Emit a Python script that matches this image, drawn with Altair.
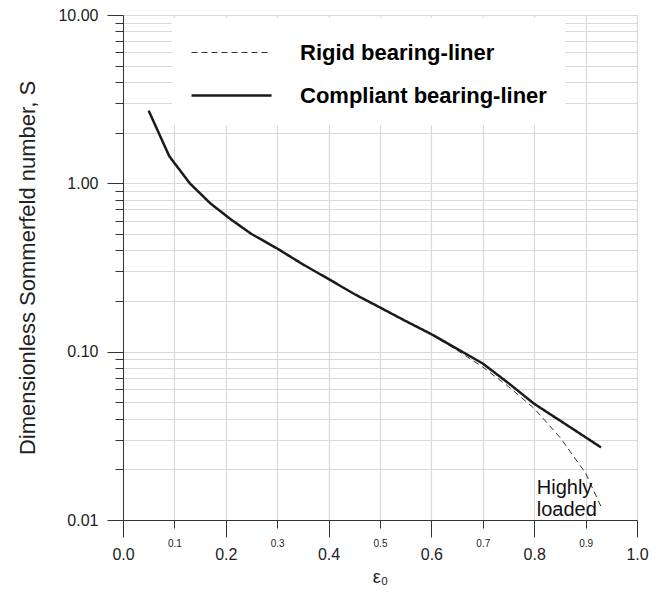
import altair as alt
import pandas as pd

# ---- data ----
series_names = ["Rigid bearing-liner", "Compliant bearing-liner"]

eps_compliant = [0.05, 0.09, 0.13, 0.17, 0.21, 0.25, 0.30, 0.35, 0.40, 0.45,
                 0.50, 0.55, 0.60, 0.65, 0.70, 0.75, 0.80, 0.85, 0.90, 0.93]
s_compliant = [2.70, 1.45, 1.00, 0.76, 0.61, 0.50, 0.41, 0.33, 0.27, 0.22,
               0.183, 0.152, 0.127, 0.104, 0.085, 0.065, 0.049, 0.039, 0.031, 0.027]

eps_rigid = [0.05, 0.09, 0.13, 0.17, 0.21, 0.25, 0.30, 0.35, 0.40, 0.45,
             0.50, 0.55, 0.60, 0.65, 0.70, 0.75, 0.80, 0.85, 0.90, 0.93]
s_rigid = [2.70, 1.45, 1.00, 0.76, 0.61, 0.50, 0.41, 0.33, 0.27, 0.22,
           0.183, 0.152, 0.126, 0.102, 0.081, 0.062, 0.046, 0.031, 0.019, 0.012]

x_ticks = [0.0, 0.1, 0.2, 0.3, 0.4, 0.5, 0.6, 0.7, 0.8, 0.9, 1.0]
y_ticks = [0.01, 0.02, 0.03, 0.04, 0.05, 0.06, 0.07, 0.08, 0.09,
           0.1, 0.2, 0.3, 0.4, 0.5, 0.6, 0.7, 0.8, 0.9,
           1, 2, 3, 4, 5, 6, 7, 8, 9, 10]

annot_x = [0.805]
annot_y = [0.0142]
annot_text = ["Highly\nloaded"]

# ---- tables ----
df = pd.concat([
    pd.DataFrame({"eps": eps_rigid, "S": s_rigid, "series": series_names[0]}),
    pd.DataFrame({"eps": eps_compliant, "S": s_compliant, "series": series_names[1]}),
], ignore_index=True)
df_annot = pd.DataFrame({"eps": annot_x, "S": annot_y, "label": annot_text})

FONT = "Liberation Sans"
x_major = "round(datum.value * 10) % 2 == 0"
y_major = "datum.value == 0.01 || datum.value == 0.1 || datum.value == 1 || datum.value == 10"

x_scale = alt.Scale(domain=[0, 1], nice=False)
y_scale = alt.Scale(type="log", domain=[0.01, 10], nice=False)

x_axis = alt.Axis(
    values=x_ticks, format=".1f", grid=True, gridColor="#d9d9d9", gridWidth=1.2,
    domainColor="#333333", tickColor="#333333", labelColor="#222222",
    tickSize={"condition": {"test": x_major, "value": 17}, "value": 8},
    labelFontSize={"condition": {"test": x_major, "value": 16}, "value": 10},
    labelPadding={"condition": {"test": x_major, "value": 9}, "value": 10},
    labelFlush=False, labelOverlap=False, labelFont=FONT,
    title="ε₀", titleFont=FONT, titleFontSize=18, titleFontWeight="normal",
    titleColor="#222222", titlePadding=6,
)
y_axis = alt.Axis(
    values=y_ticks, grid=True, gridColor="#d9d9d9", gridWidth=1.2,
    domainColor="#333333", tickColor="#333333", labelColor="#222222",
    labelExpr="(" + y_major + ") ? format(datum.value, '.2f') : ''",
    tickSize={"condition": {"test": y_major, "value": 16}, "value": 8},
    labelFontSize=16, labelPadding=9, labelOverlap=False, labelFont=FONT,
    title="Dimensionless Sommerfeld number, S", titleFont=FONT, titleFontSize=22,
    titleFontWeight="normal", titleColor="#222222", titlePadding=18,
)

legend = alt.Legend(
    title=None, orient="none", legendX=49, legendY=3, fillColor="white",
    padding=18, symbolType="M-1,0H4", symbolSize=1024, rowPadding=14,
    labelFontSize=22, labelFontWeight="bold", labelFont=FONT, labelColor="black",
    labelOffset=75, labelLimit=500,
)

lines = alt.Chart(df).mark_line().encode(
    x=alt.X("eps:Q", scale=x_scale, axis=x_axis),
    y=alt.Y("S:Q", scale=y_scale, axis=y_axis),
    stroke=alt.Stroke("series:N", scale=alt.Scale(domain=series_names, range=["#333333", "#1a1a1a"]), legend=legend),
    strokeDash=alt.StrokeDash("series:N", scale=alt.Scale(domain=series_names, range=[[6, 4], [1, 0]]), legend=legend),
    strokeWidth=alt.StrokeWidth("series:N", scale=alt.Scale(domain=series_names, range=[1.0, 2.5]), legend=legend),
    order=alt.Order("eps:Q"),
)

text = alt.Chart(df_annot).mark_text(
    align="left", baseline="alphabetic", fontSize=20, lineHeight=22,
    lineBreak="\n", font=FONT, color="#111111",
).encode(
    x=alt.X("eps:Q", scale=x_scale),
    y=alt.Y("S:Q", scale=y_scale),
    text="label:N",
)

chart = alt.layer(lines, text).properties(
    width=514, height=505,
    autosize=alt.AutoSizeParams(type="none"),
    padding={"left": 115, "top": 7, "right": 23, "bottom": 74},
).configure_view(stroke="transparent").configure(font=FONT)

chart.save("out.html", embed_options={"renderer": "svg", "actions": False})
